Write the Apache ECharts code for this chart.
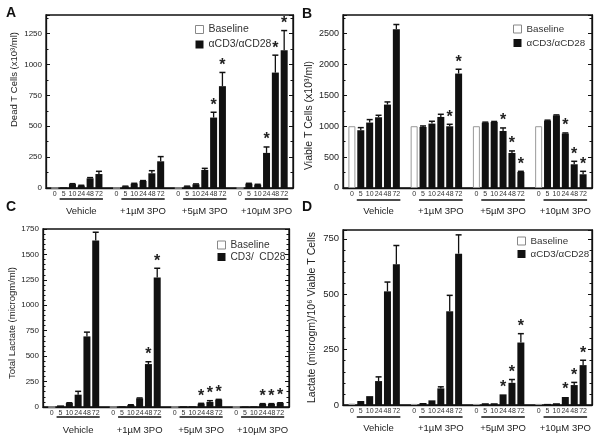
<!DOCTYPE html>
<html><head><meta charset="utf-8">
<script src="https://cdn.jsdelivr.net/npm/echarts@6/dist/echarts.min.js"></script>
<style>html,body{margin:0;padding:0;background:#fff}#c{width:600px;height:442px}</style>
</head><body><div id="c"></div>
<script>
// ---- data ----
const groups = ['Vehicle', '+1µM 3PO', '+5µM 3PO', '+10µM 3PO'];
const times = ['0', '5', '10', '24', '48', '72'];

// A: Dead T cells (x10^3/ml)
const deadBase = [0, 0, 0, 0];
const deadStim = [5, 32, 19, 78, 113,  13, 35, 57, 119, 216,  13, 30, 146, 570, 824,  35, 27, 284, 934, 1115];
const deadErr  = [0, 3, 3, 6, 22,      2, 3, 3, 21, 38,       2, 3, 13, 43, 111,      3, 3, 48, 141, 159];
const deadSig  = [0, 0, 0, 0, 0,       0, 0, 0, 0, 0,         0, 0, 0, 1, 1,          0, 0, 1, 1, 1];

// B: Viable T cells (x10^3/ml)
const viableBase = [1000, 1000, 1000, 1000];
const viableStim = [935, 1059, 1145, 1350, 2570,  988, 1042, 1150, 999, 1852,  1058, 1069, 923, 567, 259,  1090, 1175, 881, 384, 222];
const viableErr  = [42, 48, 32, 43, 76,           16, 38, 43, 32, 70,          8, 8, 49, 33, 11,          8, 8, 10, 48, 48];
const viableSig  = [0, 0, 0, 0, 0,                0, 0, 0, 1, 1,               0, 0, 1, 1, 1,             0, 0, 1, 1, 1];

// C: Total lactate (microgm/ml)
const lactBase = [0, 0, 0, 0];
const lactStim = [16, 39, 121, 694, 1636,  7, 20, 85, 422, 1273,  7, 7, 33, 49, 72,  5, 6, 30, 30, 39];
const lactErr  = [0, 3, 33, 42, 82,        0, 2, 4, 23, 91,       0, 0, 3, 13, 3,    0, 0, 3, 3, 3];
const lactSig  = [0, 0, 0, 0, 0,           0, 0, 0, 1, 1,         0, 0, 1, 1, 1,     0, 0, 1, 1, 1];

// D: Lactate per 10^6 viable T cells
const perCellBase = [6, 5, 5, 5];
const perCellStim = [18, 40, 108, 513, 635,  9, 21, 75, 423, 683,  8, 8, 48, 100, 282,  5, 8, 36, 90, 180];
const perCellErr  = [0, 0, 19, 42, 85,       0, 0, 7, 72, 85,      0, 0, 0, 15, 40,     0, 0, 0, 12, 22];
const perCellSig  = [0, 0, 0, 0, 0,          0, 0, 0, 0, 0,        0, 0, 1, 1, 1,       0, 0, 1, 1, 1];

// ---- build ----
const FONT = "'Liberation Sans', Arial, Helvetica, sans-serif";
const cats = [''];
const groupCats = [''];
groups.forEach((g) => {
  times.forEach((t, ti) => { cats.push(t); groupCats.push(ti === 3 ? g : ''); });
  cats.push(''); groupCats.push('');
});
function idx(g, t) { return 1 + g * 7 + t; }
function baseData(base) { const d = cats.map(() => '-'); base.forEach((v, g) => { d[idx(g, 0)] = v; }); return d; }
function stimData(stim) { const d = cats.map(() => '-'); stim.forEach((v, k) => { d[idx(Math.floor(k / 5), k % 5 + 1)] = v; }); return d; }
function errData(stim, err, sig) { return stim.map((v, k) => [idx(Math.floor(k / 5), k % 5 + 1), v, err[k], sig[k]]); }

const panels = [
  { grid: { left: 46, right: 307, top: 15, height: 173 }, base: deadBase, stim: deadStim, err: deadErr, sig: deadSig,
    max: 1400, interval: 250, minor: 2, yFont: 8, name: 'Dead T Cells (x10³/ml)', nameSize: 9.5, nameGap: 27, namePad: [0, 0, 0, 44],
    stimName: 'αCD3/αCD28', legLeft: 190, legTop: 19, legGap: 4, legFont: 10.5, ulY: 199, letter: 'A', lx: 6, ly: 6 },
  { grid: { left: 343, right: 8, top: 15, height: 173 }, base: viableBase, stim: viableStim, err: viableErr, sig: viableSig,
    max: 2800, interval: 500, minor: 2, yFont: 9, name: 'Viable T Cells (x10³/ml)', nameSize: 10.5, nameGap: 26, namePad: [0, 28, 0, 0],
    stimName: 'αCD3/αCD28 ', legLeft: 508, legTop: 19, legGap: 4, legFont: 9.8, ulY: 200, letter: 'B', lx: 302, ly: 7 },
  { grid: { left: 43, right: 311, top: 229, height: 178 }, base: lactBase, stim: lactStim, err: lactErr, sig: lactSig,
    max: 1750, interval: 250, minor: 5, yFont: 8, name: 'Total Lactate (microgm/ml)', nameSize: 9.5, nameGap: 25, namePad: [0, 10, 0, 0],
    stimName: 'CD3/  CD28', legLeft: 212, legTop: 235, legGap: 2, legFont: 10.2, ulY: 417, letter: 'C', lx: 6, ly: 200 },
  { grid: { left: 343, right: 8, top: 230, height: 175 }, base: perCellBase, stim: perCellStim, err: perCellErr, sig: perCellSig,
    max: 790, interval: 250, minor: 5, yFont: 9.5, name: 'Lactate (microgm)/10⁶ Viable T Cells', nameSize: 10.5, nameGap: 25, namePad: [0, 0, 0, 0],
    stimName: 'αCD3/αCD28  ', legLeft: 512, legTop: 231, legGap: 3, legFont: 9.8, ulY: 417, letter: 'D', lx: 302, ly: 200 }
];

function renderErr(params, api) {
  const x = api.value(0), m = api.value(1), e = api.value(2), s = api.value(3);
  const p0 = api.coord([x, m]);
  const p1 = api.coord([x, m + e]);
  const children = [];
  if (e > 0) {
    children.push({ type: 'line', shape: { x1: p0[0], y1: p0[1], x2: p1[0], y2: p1[1] }, style: { stroke: '#111', lineWidth: 1.3 } });
    children.push({ type: 'line', shape: { x1: p1[0] - 3, y1: p1[1], x2: p1[0] + 3, y2: p1[1] }, style: { stroke: '#111', lineWidth: 1.5 } });
  }
  if (s) {
    children.push({ type: 'text', style: { text: '*', x: p1[0], y: p1[1] + 1, align: 'center', verticalAlign: 'bottom',
      font: "bold 16px 'Liberation Sans', Arial, sans-serif", fill: '#222' } });
  }
  return { type: 'group', children };
}

const option = { animation: false, backgroundColor: '#fff', grid: [], xAxis: [], yAxis: [], series: [], legend: [] };
panels.forEach((p, i) => {
  option.grid.push(Object.assign({ show: true, borderColor: '#111', borderWidth: 1.3, backgroundColor: 'transparent' }, p.grid));
  option.xAxis.push({ gridIndex: i, type: 'category', data: cats, boundaryGap: false,
    axisLine: { lineStyle: { color: '#111', width: 1.3 } }, axisTick: { show: false },
    axisLabel: { interval: 0, fontSize: 7, margin: 3, color: '#333', fontFamily: FONT } });
  option.xAxis.push({ gridIndex: i, type: 'category', data: groupCats, boundaryGap: false, position: 'bottom',
    axisLine: { show: false }, axisTick: { show: false },
    axisLabel: { interval: 0, fontSize: 9.5, margin: 18, color: '#222', fontFamily: FONT } });
  const yBase = { gridIndex: i, type: 'value', min: 0, max: p.max, interval: p.interval, splitLine: { show: false },
    axisLine: { show: true, lineStyle: { color: '#111', width: 1.3 } },
    axisTick: { show: true, inside: true, length: 4, lineStyle: { color: '#111' } },
    minorTick: { show: true, splitNumber: p.minor, length: 2.5, lineStyle: { color: '#111' } } };
  option.yAxis.push(Object.assign({}, yBase, { position: 'left',
    name: p.name, nameLocation: 'middle', nameGap: p.nameGap,
    nameTextStyle: { fontSize: p.nameSize, color: '#222', fontFamily: FONT, padding: p.namePad },
    axisLabel: { fontSize: p.yFont, color: '#222', margin: 4, fontFamily: FONT,
      formatter: (v) => (v % p.interval === 0 ? String(v) : '') } }));
  option.yAxis.push(Object.assign({}, yBase, { position: 'right', axisLabel: { show: false } }));
  option.series.push({ name: 'Baseline', type: 'bar', xAxisIndex: 2 * i, yAxisIndex: 2 * i, data: baseData(p.base),
    barWidth: 7, barGap: '-100%', itemStyle: { color: '#fff', borderColor: '#999', borderWidth: 1 } });
  option.series.push({ name: p.stimName, type: 'bar', xAxisIndex: 2 * i, yAxisIndex: 2 * i, data: stimData(p.stim),
    barWidth: 7, barGap: '-100%', itemStyle: { color: '#111' } });
  option.series.push({ type: 'custom', xAxisIndex: 2 * i, yAxisIndex: 2 * i, data: errData(p.stim, p.err, p.sig),
    renderItem: renderErr, encode: { x: 0, y: 1 }, z: 5, clip: false });
  option.legend.push({ orient: 'vertical', left: p.legLeft, top: p.legTop, itemWidth: 8, itemHeight: 8, itemGap: p.legGap,
    icon: 'rect', selectedMode: false, textStyle: { fontSize: p.legFont, color: '#333', fontFamily: FONT },
    data: [{ name: 'Baseline', itemStyle: { color: '#fff', borderColor: '#888', borderWidth: 1 } },
           { name: p.stimName, itemStyle: { color: '#111', borderWidth: 0 } }] });
});

const chart = echarts.init(document.getElementById('c'), null, { renderer: 'canvas' });
chart.setOption(option);

const graphics = [];
panels.forEach((p, i) => {
  graphics.push({ type: 'text', left: p.lx, top: p.ly, style: { text: p.letter, font: "bold 14px 'Liberation Sans', Arial, sans-serif", fill: '#111' } });
  groups.forEach((_, gi) => {
    const xa = chart.convertToPixel({ xAxisIndex: 2 * i }, idx(gi, 1));
    const xb = chart.convertToPixel({ xAxisIndex: 2 * i }, idx(gi, 5));
    graphics.push({ type: 'line', shape: { x1: xa - 4, y1: p.ulY, x2: xb + 4, y2: p.ulY }, style: { stroke: '#111', lineWidth: 1.5 } });
  });
});
chart.setOption({ graphic: graphics });
</script>
</body></html>
